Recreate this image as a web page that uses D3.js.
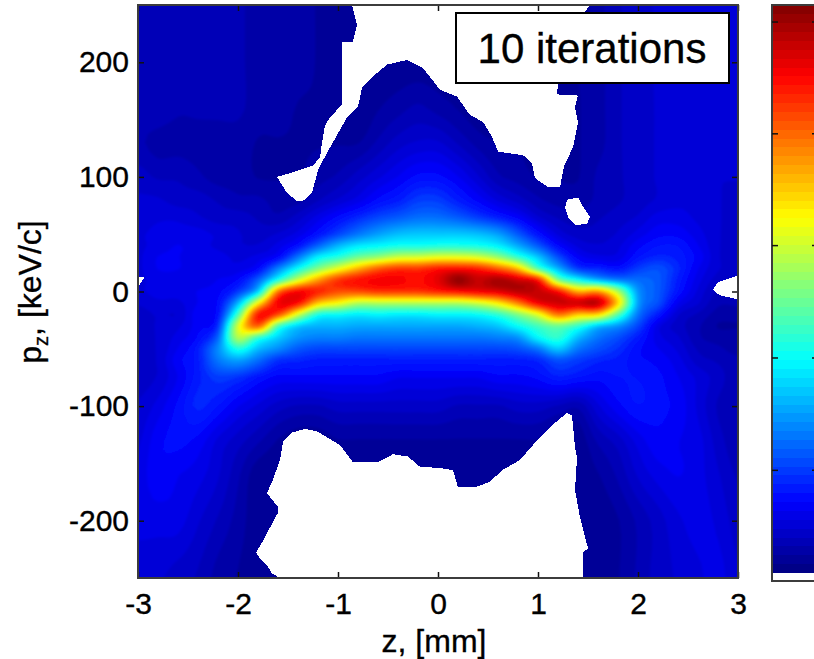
<!DOCTYPE html>
<html>
<head>
<meta charset="utf-8">
<script src="https://cdn.jsdelivr.net/npm/d3@7"></script>
<style>
  body { margin: 0; background: #fff; }
  text { font-family: "Liberation Sans", Arial, sans-serif; fill: #000; stroke: #000; stroke-width: 0.35; }
</style>
</head>
<body>
<svg id="chart" width="814" height="659"></svg>
<script>
// axis ticks
const zTicks = [-3, -2, -1, 0, 1, 2, 3];
const pzTicks = [-200, -100, 0, 100, 200];
const cbarTicks = [18, 37.8, 57.6, 77.3, 97];

// grid of the phase space density (0-100)
const zCols = d3.range(31).map(i => -3 + i * 0.2);
const pzRows = [250, 200, 160, 130, 100, 80, 65, 50, 40, 30, 20, 10, 0, -10, -20, -30, -40, -50, -60, -75, -100, -130, -160, -200, -250];
const density = [
  [6,6,6,5,5,5,4,4,4,3,3,2,2,2,2,2,2,2,2,2,2,2,2,4,6,7,8,8,8,8,8],
  [6,6,6,5,5,5,4,4,4,3,3,3,2,2,2,2,2,2,2,2,2,2,3,4,6,7,8,8,8,8,8],
  [6,6,5,5,5,5,4,4,3,3,3,2,3,4,5,4,3,2,2,2,2,2,3,4,6,7,8,9,9,9,9],
  [5,4,4,4,4,4,3,3,3,3,3,3,5,7,8,8,6,4,3,3,2,2,3,4,6,7,8,9,9,9,9],
  [7,6,6,5,4,4,3,3,3,4,5,7,9,11,13,13,11,8,5,4,3,3,3,5,6,7,8,9,9,8,8],
  [8,8,7,7,6,5,5,4,4,6,8,10,13,15,18,18,15,12,9,7,5,4,4,5,6,7,8,9,9,8,7],
  [8,9,9,8,7,7,6,5,7,10,13,16,19,21,23,23,21,18,15,12,8,6,5,6,7,8,10,10,9,8,7],
  [9,10,10,10,9,8,7,8,10,14,19,24,28,31,32,32,32,31,28,21,14,9,7,7,8,10,12,12,10,8,7],
  [9,10,11,10,9,8,8,10,14,22,30,35,37,39,39,40,40,39,36,29,21,13,9,8,9,12,14,14,11,8,7],
  [9,11,11,10,10,9,10,13,24,36,41,48,52,57,58,60,60,58,52,42,32,20,12,10,10,14,16,15,12,8,7],
  [9,11,11,10,10,10,13,25,38,50,60,70,78,82,82,85,86,84,78,68,45,30,18,16,14,18,20,16,11,8,7],
  [9,10,10,10,11,13,22,40,58,72,82,86,88,88,87,90,98,93,96,92,85,50,38,30,25,23,21,15,10,7,6],
  [9,10,10,11,12,18,33,75,87,84,80,80,82,82,82,84,86,88,90,94,93,86,70,72,54,27,21,14,9,6,6],
  [8,9,9,11,13,30,62,88,86,68,62,55,55,55,55,55,55,58,64,75,88,92,92,93,66,28,20,11,8,5,5],
  [7,8,8,12,14,44,85,80,58,40,38,36,37,36,36,37,37,38,42,50,60,76,68,66,46,24,15,8,6,4,4],
  [7,8,9,12,17,58,78,45,33,30,30,29,29,29,29,29,29,30,32,38,44,48,42,32,27,19,10,7,5,3,3],
  [7,8,10,13,22,55,43,33,27,25,25,24,24,24,24,24,24,24,25,27,37,42,31,24,20,15,10,8,5,4,4],
  [7,8,11,15,26,40,31,26,21,19,19,19,19,19,19,19,19,19,19,20,24,32,24,20,17,13,11,9,6,5,4],
  [7,8,12,15,24,28,23,17,16,15,15,15,15,15,15,15,15,15,15,15,16,20,18,16,15,13,12,10,7,6,5],
  [7,8,11,15,18,17,14,12,12,12,12,12,12,11,11,11,11,11,12,12,13,15,14,13,14,14,13,11,9,7,5],
  [8,10,13,16,14,11,9,7,6,6,7,7,7,7,7,7,6,6,6,7,7,6,5,9,12,14,13,12,9,6,5],
  [9,12,13,12,9,7,5,3,2,2,3,3,3,3,3,3,3,3,3,3,3,2,2,5,7,10,12,11,10,7,5],
  [10,12,11,10,8,5,2,2,2,2,2,2,2,2,2,2,2,2,2,2,2,2,2,3,5,8,10,11,10,8,6],
  [10,10,10,8,6,4,2,2,2,2,2,2,2,2,2,2,2,2,2,2,2,2,2,2,3,5,7,9,10,9,7],
  [8,8,7,6,4,3,2,2,2,2,2,2,2,2,2,2,2,2,2,2,2,2,2,2,3,5,7,8,9,10,8]
];

// empty (white) parts of the phase space, as [z, pz]
const holeTop = [[-.86,250],[-.81,233],[-.85,218],[-.96,218],[-.96,163],[-1.08,152],[-1.13,145],[-1.16,130],[-1.18,117],[-1.25,110],[-1.45,104],[-1.61,100],[-1.51,86],[-1.41,79],[-1.35,79],[-1.26,86],[-1.2,106],[-1.11,121],[-1,138],[-.91,152],[-.8,161],[-.76,178],[-.66,187],[-.51,198],[-.31,202],[-.15,195],[.02,176],[.19,170],[.32,154],[.45,148],[.54,135],[.6,122],[.85,119],[.94,112],[.97,99],[1.1,91],[1.22,91],[1.26,109],[1.35,126],[1.4,147],[1.37,161],[1.4,171],[1.19,172],[1.2,182],[1.47,244],[1.52,250]];
const holeTear = [[1.29,80],[1.4,82],[1.45,74],[1.52,65],[1.49,59],[1.37,58],[1.3,65],[1.27,73]];
const holeRight = [[2.75,2],[2.8,8],[3,14],[3,-7],[2.81,-3]];
const holeLeft = [[-3,13],[-2.93,13],[-3,4]];
const holeBottom = [[-1.58,-250],[-1.66,-246],[-1.71,-239],[-1.78,-233],[-1.82,-228],[-1.76,-219],[-1.68,-206],[-1.6,-193],[-1.6,-188],[-1.71,-176],[-1.65,-164],[-1.58,-147],[-1.55,-131],[-1.46,-123],[-1.33,-120],[-1.21,-122],[-.98,-134],[-.85,-149],[-.6,-149],[-.45,-142],[-.3,-144],[-.18,-153],[.02,-154],[.15,-156],[.2,-171],[.37,-171],[.52,-166],[.64,-156],[.82,-147],[.99,-130],[1.15,-116],[1.29,-106],[1.34,-108],[1.37,-136],[1.39,-145],[1.37,-173],[1.42,-197],[1.47,-214],[1.5,-224],[1.45,-228],[1.45,-250]];
const holes = [holeTop, holeTear, holeRight, holeLeft, holeBottom];

const left = 138, right = 738, top_ = 5, bottom = 578;
const svg = d3.select("#chart");

const x = d3.scaleLinear().domain([-3, 3]).range([left, right]);
const y = d3.scaleLinear().domain([-250, 250]).range([bottom, top_]);

// matlab jet with 64 levels
const levels = 64;
function jet(i) {
  const t = (i + 0.5) / levels * 4;
  const ch = d => Math.round(255 * Math.max(0, Math.min(1, Math.min(t - d + 1.5, -t + d + 1.5))));
  return `rgb(${ch(3)},${ch(2)},${ch(1)})`;
}
const jetColors = d3.range(levels).map(jet);

svg.append("clipPath").attr("id", "plot-clip")
  .append("rect").attr("x", left).attr("y", top_).attr("width", right - left).attr("height", bottom - top_);
svg.append("filter").attr("id", "soft").attr("x", "-5%").attr("y", "-5%").attr("width", "110%").attr("height", "110%")
  .append("feGaussianBlur").attr("stdDeviation", 0.8);

// smooth the grid for drawing only (catmull-rom, 4 steps per cell)
const steps = 4;
function spline(a, b, c, d, t) {
  return 0.5 * (2 * b + (c - a) * t + (2 * a - 5 * b + 4 * c - d) * t * t + (3 * b - a - 3 * c + d) * t * t * t);
}
function refine(rows) {
  const nr = rows.length, nc = rows[0].length, out = [];
  const at = (r, c) => rows[Math.max(0, Math.min(nr - 1, r))][Math.max(0, Math.min(nc - 1, c))];
  for (let r = 0; r <= (nr - 1) * steps; r++) {
    const r0 = Math.min(Math.floor(r / steps), nr - 2), tr = r / steps - r0;
    for (let c = 0; c <= (nc - 1) * steps; c++) {
      const c0 = Math.min(Math.floor(c / steps), nc - 2), tc = c / steps - c0;
      const col = [-1, 0, 1, 2].map(k => spline(at(r0 + k, c0 - 1), at(r0 + k, c0), at(r0 + k, c0 + 1), at(r0 + k, c0 + 2), tc));
      out.push(spline(col[0], col[1], col[2], col[3], tr));
    }
  }
  return out;
}
const fineCols = (zCols.length - 1) * steps + 1, fineRows = (pzRows.length - 1) * steps + 1;

// filled contours, lowest level first
const thresholds = d3.range(levels).map(i => i * 100 / levels);
const contours = d3.contours()
  .size([fineCols, fineRows])
  .thresholds(thresholds)(refine(density));

const colToZ = d3.scaleLinear().domain([0, fineCols - 1]).range([zCols[0], zCols[zCols.length - 1]]);
const rowToPz = d3.scaleLinear().domain(d3.range(pzRows.length).map(i => i * steps)).range(pzRows);
const path = d3.geoPath(d3.geoTransform({
  point(cx, cy) { this.stream.point(x(colToZ(cx - 0.5)), y(rowToPz(cy - 0.5))); }
}));

const plot = svg.append("g").attr("clip-path", "url(#plot-clip)");
const field = plot.append("g").attr("filter", "url(#soft)");
field.append("rect").attr("x", left - 20).attr("y", top_ - 20)
  .attr("width", right - left + 40).attr("height", bottom - top_ + 40)
  .attr("fill", jetColors[0]);
field.selectAll("path").data(contours).enter().append("path")
  .attr("d", path)
  .attr("fill", (d, i) => jetColors[i])
  .attr("stroke", (d, i) => jetColors[i])
  .attr("stroke-width", 0.3);

plot.selectAll("path.hole").data(holes).enter().append("path")
  .attr("class", "hole")
  .attr("d", d3.line().x(d => x(d[0])).y(d => y(d[1])).curve(d3.curveLinearClosed))
  .attr("fill", "#fff")
  .attr("shape-rendering", "crispEdges");

// axes, matlab style: ticks inside on all four sides
const frameColor = "#3c3c3c";
function styleAxis(g) {
  g.select(".domain").remove();
  g.selectAll(".tick line").attr("stroke", "#111").attr("stroke-width", 1.5);
  g.selectAll("text").attr("font-size", 30).attr("font-family", '"Liberation Sans", Arial, sans-serif').attr("fill", "#000");
}
svg.append("g").attr("transform", `translate(0,${bottom})`)
  .call(d3.axisBottom(x).tickValues(zTicks).tickSize(-6).tickPadding(15).tickFormat(d => String(d)))
  .call(styleAxis);
svg.append("g").attr("transform", `translate(${left},0)`)
  .call(d3.axisLeft(y).tickValues(pzTicks).tickSize(-6).tickPadding(9).tickFormat(d => String(d)))
  .call(styleAxis);
svg.append("g").attr("transform", `translate(0,${top_})`)
  .call(d3.axisTop(x).tickValues(zTicks).tickSize(-6).tickFormat(""))
  .call(styleAxis);
svg.append("g").attr("transform", `translate(${right},0)`)
  .call(d3.axisRight(y).tickValues(pzTicks).tickSize(-6).tickFormat(""))
  .call(styleAxis);
svg.append("rect").attr("x", left).attr("y", top_).attr("width", right - left).attr("height", bottom - top_)
  .attr("fill", "none").attr("stroke", frameColor).attr("stroke-width", 2);

// axis labels
svg.append("text").attr("x", 434).attr("y", 652).attr("text-anchor", "middle").attr("font-size", 32).text("z, [mm]");
const yLabel = svg.append("text").attr("transform", "translate(41,292) rotate(-90)")
  .attr("text-anchor", "middle").attr("font-size", 32);
yLabel.append("tspan").text("p");
yLabel.append("tspan").attr("font-size", 20).attr("dy", 7).text("z");
yLabel.append("tspan").attr("dy", -7).text(", [keV/c]");

// label box
svg.append("rect").attr("x", 456).attr("y", 13).attr("width", 273).attr("height", 70)
  .attr("fill", "#fff").attr("stroke", "#000").attr("stroke-width", 2);
svg.append("text").attr("x", 592).attr("y", 63).attr("text-anchor", "middle").attr("font-size", 42).text("10 iterations");

// colorbar, runs off the right edge of the picture
const cbarLeft = 772, cbarWidth = 45, cbarBottom = 581;
const cbarY = d3.scaleLinear().domain([0, 100]).range([572.5, top_]);
const cbar = svg.append("g");
cbar.selectAll("rect").data(jetColors).enter().append("rect")
  .attr("x", cbarLeft)
  .attr("y", (d, i) => cbarY((i + 1) * 100 / levels))
  .attr("width", cbarWidth)
  .attr("height", (d, i) => cbarY(i * 100 / levels) - cbarY((i + 1) * 100 / levels) + 0.5)
  .attr("fill", d => d)
  .attr("shape-rendering", "crispEdges");
svg.append("rect").attr("x", cbarLeft).attr("y", top_).attr("width", cbarWidth).attr("height", cbarBottom - top_)
  .attr("fill", "none").attr("stroke", frameColor).attr("stroke-width", 2);
svg.append("g").selectAll("line").data(cbarTicks.flatMap(t => [[t, cbarLeft, cbarLeft + 6], [t, cbarLeft + cbarWidth - 5, cbarLeft + cbarWidth]]))
  .enter().append("line")
  .attr("x1", d => d[1]).attr("x2", d => d[2])
  .attr("y1", d => cbarY(d[0])).attr("y2", d => cbarY(d[0]))
  .attr("stroke", "#111").attr("stroke-width", 1.5);
</script>
</body>
</html>
